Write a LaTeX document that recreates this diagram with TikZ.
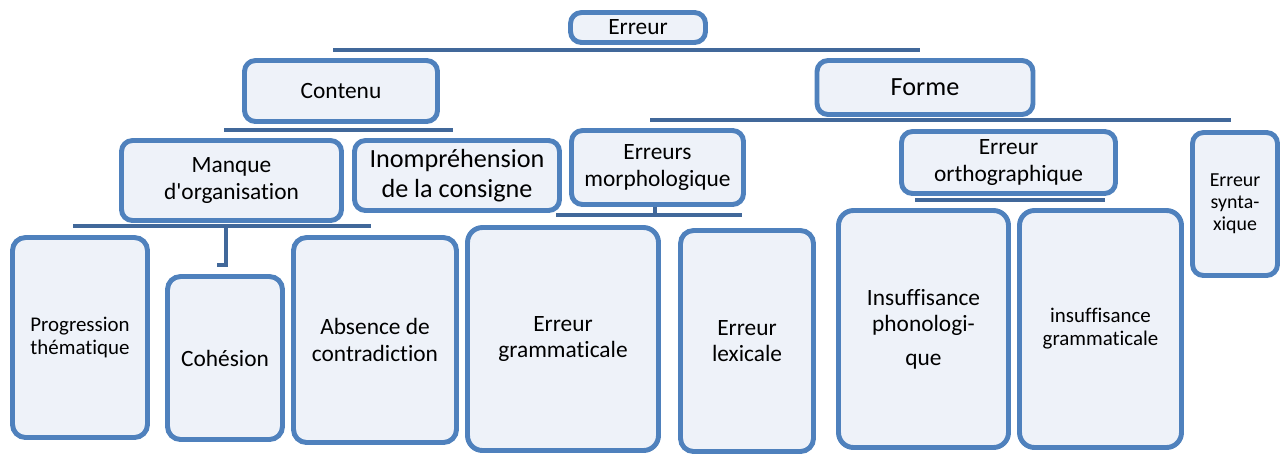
\documentclass[tikz,border=0pt]{standalone}
\usepackage{fontspec}
\setmainfont{Carlito}[Ligatures={TeXOff,NoCommon}]
\definecolor{bordo}{HTML}{4F81BD}
\definecolor{barra}{HTML}{41689A}
\definecolor{fondo}{HTML}{EEF2F9}
\begin{document}
\begin{tikzpicture}[
  casella/.style={draw=bordo, fill=fondo, line width=2.8pt, rounded corners=0.22cm,
    align=center, inner sep=1pt, font=\fontsize{13.3}{15}\selectfont},
  grande/.style={font=\fontsize{14.9}{17}\selectfont},
  piccolo/.style={font=\fontsize{11.9}{13}\selectfont},
  minimo/.style={font=\fontsize{11.3}{12.5}\selectfont},
  barra/.style={draw=barra, line width=2.3pt},
  tige/.style={draw=barra, line width=2pt}
]
\useasboundingbox (0,0) rectangle (25.66,-9.08);

%--------------------------------------------------------------
% Livello 0 e 1: Erreur, Contenu, Forme
%--------------------------------------------------------------
\node[casella, minimum width=2.70cm, minimum height=0.60cm] (erreur) at (12.76,-0.55) {Erreur};
\node[casella, minimum width=3.86cm, minimum height=1.22cm] (contenu) at (6.82,-1.82) {Contenu};
\node[casella, grande, minimum width=4.32cm, minimum height=1.08cm] (forme) at (18.50,-1.75) {Forme};

%--------------------------------------------------------------
% Livello 2
%--------------------------------------------------------------
\node[casella, minimum width=4.40cm, minimum height=1.60cm] (manque) at (4.63,-3.61) {Manque\\d'organisation};
\node[casella, grande, minimum width=4.10cm, minimum height=1.40cm] (inomp) at (9.14,-3.51) {Inompréhension\\de la consigne};
\node[casella, minimum width=3.44cm, minimum height=1.48cm] (morpho) at (13.15,-3.35) {Erreurs\\morphologique};
\node[casella, minimum width=4.28cm, minimum height=1.24cm] (ortho) at (20.17,-3.25) {Erreur\\orthographique};
\node[casella, minimo, minimum width=1.70cm, minimum height=2.86cm] (syntaxe) at (24.70,-4.08) {Erreur\\synta-\\xique};

%--------------------------------------------------------------
% Livello 3
%--------------------------------------------------------------
\node[casella, piccolo, rounded corners=0.26cm, minimum width=2.70cm, minimum height=4.00cm] (progr) at (1.60,-6.75) {Progression\\thématique};
\node[casella, rounded corners=0.26cm, minimum width=2.30cm, minimum height=3.26cm] (cohesion) at (4.50,-7.16) {Cohésion};
\node[casella, rounded corners=0.26cm, minimum width=3.26cm, minimum height=4.10cm] (absence) at (7.50,-6.80) {Absence de\\contradiction};
\node[casella, rounded corners=0.30cm, minimum width=3.82cm, minimum height=4.46cm] (gramm) at (11.26,-6.78) {Erreur\\grammaticale};
\node[casella, rounded corners=0.26cm, minimum width=2.66cm, minimum height=4.42cm] (lexic) at (14.94,-6.82) {Erreur\\lexicale};
\node[casella, rounded corners=0.30cm, minimum width=3.40cm, minimum height=4.74cm] (phono) at (18.47,-6.58) {Insuffisance\\phonologi-\\[4pt]que};
\node[casella, piccolo, rounded corners=0.30cm, minimum width=3.24cm, minimum height=4.74cm] (insgram) at (22.01,-6.58) {insuffisance\\grammaticale};

%--------------------------------------------------------------
% Barre sotto le caselle
%--------------------------------------------------------------
\coordinate (b0g) at (6.66,-1.00);  \coordinate (b0d) at (18.40,-1.00);
\coordinate (b1g) at (4.48,-2.60);  \coordinate (b1d) at (9.06,-2.60);
\coordinate (b2g) at (13.00,-2.40); \coordinate (b2d) at (24.62,-2.40);
\coordinate (b3g) at (1.46,-4.52);  \coordinate (b3d) at (7.42,-4.52);
\coordinate (b4g) at (11.12,-4.30); \coordinate (b4d) at (14.84,-4.30);
\coordinate (b5g) at (18.30,-4.00); \coordinate (b5d) at (22.10,-4.00);
\draw[barra] (b0g) -- (b0d);
\draw[barra] (b1g) -- (b1d);
\draw[barra] (b2g) -- (b2d);
\draw[barra] (b3g) -- (b3d);
\draw[barra] (b4g) -- (b4d);
\draw[barra] (b5g) -- (b5d);
% gancio sotto Manque d'organisation
\coordinate (g1) at (4.52,-4.52);
\coordinate (g2) at (4.52,-5.30);
\coordinate (g3) at (4.34,-5.30);
\draw[tige] (g1) -- (g2) -- (g3);
% tratto sotto Erreurs morphologique
\coordinate (t1) at (13.10,-4.30);
\draw[tige] (morpho.south -| t1) -- (t1);

\end{tikzpicture}
\end{document}
